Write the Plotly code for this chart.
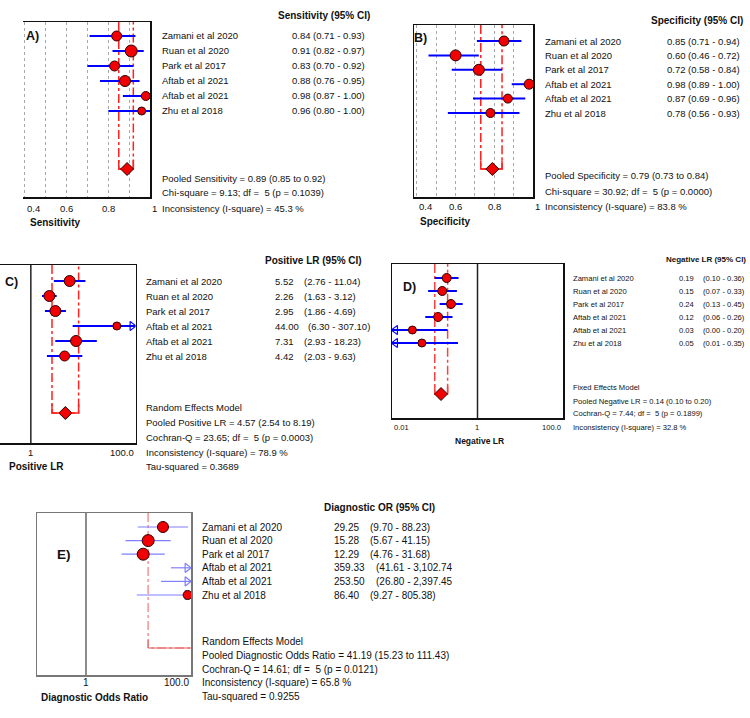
import math
import plotly.graph_objects as go

W, H = 750, 718
FONT = "Liberation Sans, Arial, sans-serif"

studies = ["Zamani et al 2020", "Ruan et al 2020", "Park et al 2017",
           "Aftab et al 2021", "Aftab et al 2021", "Zhu et al 2018"]

# A) Sensitivity
sens = [0.84, 0.91, 0.83, 0.88, 0.98, 0.96]
sens_lo = [0.71, 0.82, 0.70, 0.76, 0.87, 0.80]
sens_hi = [0.93, 0.97, 0.92, 0.95, 1.00, 1.00]
sens_pool = [0.89, 0.85, 0.92]
sens_stats = dict(chi=9.13, df=5, p=0.1039, i2=45.3)

# B) Specificity
spec = [0.85, 0.60, 0.72, 0.98, 0.87, 0.78]
spec_lo = [0.71, 0.46, 0.58, 0.89, 0.69, 0.56]
spec_hi = [0.94, 0.72, 0.84, 1.00, 0.96, 0.93]
spec_pool = [0.79, 0.73, 0.84]
spec_stats = dict(chi=30.92, df=5, p=0.0000, i2=83.8)

# C) Positive LR
plr = [5.52, 2.26, 2.95, 44.00, 7.31, 4.42]
plr_lo = [2.76, 1.63, 1.86, 6.30, 2.93, 2.03]
plr_hi = [11.04, 3.12, 4.69, 307.10, 18.23, 9.63]
plr_pool = [4.57, 2.54, 8.19]
plr_stats = dict(q=23.65, df=5, p=0.0003, i2=78.9, tau2=0.3689)

# D) Negative LR
nlr = [0.19, 0.15, 0.24, 0.12, 0.03, 0.05]
nlr_lo = [0.10, 0.07, 0.13, 0.06, 0.00, 0.01]
nlr_hi = [0.36, 0.33, 0.45, 0.26, 0.20, 0.35]
nlr_pool = [0.14, 0.10, 0.20]
nlr_stats = dict(q=7.44, df=5, p=0.1899, i2=32.8)

# E) Diagnostic OR
dor = [29.25, 15.28, 12.29, 359.33, 253.50, 86.40]
dor_lo = [9.70, 5.67, 4.76, 41.61, 26.80, 9.27]
dor_hi = [88.23, 41.15, 31.68, 3102.74, 2397.45, 805.38]
dor_pool = [41.19, 15.23, 111.43]
dor_stats = dict(q=14.61, df=5, p=0.0121, i2=65.8, tau2=0.9255)

# tick labels
lin_grid = [0.4, 0.5, 0.6, 0.7, 0.8, 0.9]
lin_ticks = [0.4, 0.6, 0.8, 1.0]
lin_ticktext = ["0.4", "0.6", "0.8", "1"]
null_value = 1

fig = go.Figure()


def px2paper_x(px):
    return px / W


def px2paper_y(py):
    return 1 - py / H


def txt(x_px, y_px, s, size, bold=False, anchor="left", color="#111"):
    fig.add_annotation(x=px2paper_x(x_px), y=px2paper_y(y_px), xref="paper", yref="paper",
                       text=("<b>%s</b>" % s) if bold else s, showarrow=False,
                       xanchor=anchor, yanchor="middle",
                       font=dict(size=size, family=FONT, color=color))


panels = [
    dict(key="A", n=1, log=False, box=(22.7, 22, 150, 197), row0=36, sp=15, pooled_px=169,
         xr=[0.389, 1.0], vals=sens, lo=sens_lo, hi=sens_hi, pool=sens_pool,
         sizes=[10, 12, 10, 11, 9, 8], ci_color="#0000ff", ci_w=2, red="#ff2020", red_w=1.5,
         left_line=False, box_color="#111"),
    dict(key="B", n=2, log=False, box=(414, 25, 533, 197), row0=41, sp=14.4, pooled_px=169,
         xr=[0.385, 1.0], vals=spec, lo=spec_lo, hi=spec_hi, pool=spec_pool,
         sizes=[10, 11, 11, 10, 9, 9], ci_color="#0000ff", ci_w=2, red="#ff2020", red_w=1.5,
         left_line=True, box_color="#111"),
    dict(key="C", n=3, log=True, box=(0, 265, 135.5, 443), row0=281, sp=15, pooled_px=413,
         xr=[-0.589, 2.0], vals=plr, lo=plr_lo, hi=plr_hi, pool=plr_pool,
         sizes=[11, 11, 11, 8, 11, 10], ci_color="#0000ff", ci_w=2, red="#ff2020", red_w=1.5,
         left_line=False, box_color="#111"),
    dict(key="D", n=4, log=True, box=(392, 264, 563, 418), row0=278, sp=13, pooled_px=394,
         xr=[-2.0, 2.0], vals=nlr, lo=nlr_lo, hi=nlr_hi, pool=nlr_pool,
         sizes=[9, 9, 9, 9, 8, 8], ci_color="#0000ff", ci_w=2, red="#ff4040", red_w=1.5,
         left_line=True, box_color="#111"),
    dict(key="E", n=5, log=True, box=(37, 513, 191, 675), row0=527, sp=13.6, pooled_px=648,
         xr=[-0.933, 2.0], vals=dor, lo=dor_lo, hi=dor_hi, pool=dor_pool,
         sizes=[11, 12, 12, 11, 11, 9], ci_color="#7f7fff", ci_w=1.2, red="#e86060", red_w=1,
         left_line=True, box_color="#777", no_diamond=True),
]

layout_axes = {}
for p in panels:
    n = p["n"]
    l, t, r, b = p["box"]
    xa = "x" if n == 1 else "x%d" % n
    ya = "y" if n == 1 else "y%d" % n
    xname = "xaxis" if n == 1 else "xaxis%d" % n
    yname = "yaxis" if n == 1 else "yaxis%d" % n
    p["xa"], p["ya"] = xa, ya
    ytop = (t - p["row0"]) / p["sp"]
    ybot = (b - p["row0"]) / p["sp"]
    p["ytop"], p["ybot"] = ytop, ybot
    p["prow"] = (p["pooled_px"] - p["row0"]) / p["sp"]
    xaxis = dict(domain=[l / W, r / W], range=p["xr"], anchor=ya,
                 type="log" if p["log"] else "linear",
                 showline=True, mirror=True, linecolor=p["box_color"], linewidth=1.5,
                 showticklabels=False, ticks="", zeroline=False, fixedrange=True)
    if p["log"]:
        xaxis["showgrid"] = False
    else:
        xaxis.update(showgrid=True, tickmode="array", tickvals=lin_grid,
                     gridcolor="#a8a8a8", griddash="dot", gridwidth=1)
    yaxis = dict(domain=[1 - b / H, 1 - t / H], range=[ybot, ytop], anchor=xa,
                 showgrid=False, zeroline=False, showticklabels=False, ticks="",
                 showline=True, linecolor=p["box_color"], linewidth=1.5, fixedrange=True)
    if p["left_line"]:
        yaxis["mirror"] = True
    else:
        yaxis["side"] = "right"
    layout_axes[xname] = xaxis
    layout_axes[yname] = yaxis

for p in panels:
    xa, ya = p["xa"], p["ya"]
    lo_lim = 10 ** p["xr"][0] if p["log"] else p["xr"][0]
    hi_lim = 10 ** p["xr"][1] if p["log"] else p["xr"][1]
    rows = list(range(len(p["vals"])))

    if p["log"]:
        fig.add_trace(go.Scatter(x=[null_value, null_value], y=[p["ytop"], p["ybot"]],
                                 xaxis=xa, yaxis=ya, mode="lines",
                                 line=dict(color="#222" if p["key"] != "E" else "#666", width=1.5),
                                 hoverinfo="skip", showlegend=False))

    plo, phi = p["pool"][1], p["pool"][2]
    fig.add_trace(go.Scatter(x=[plo, plo, phi, phi],
                             y=[p["ytop"], p["prow"], p["prow"], p["ytop"]],
                             xaxis=xa, yaxis=ya, mode="lines",
                             line=dict(color=p["red"], width=p["red_w"], dash="dashdot"),
                             hoverinfo="skip", showlegend=False))
    fig.add_trace(go.Scatter(x=[plo, plo, phi, phi],
                             y=[p["prow"] - 0.6, p["prow"], p["prow"], p["prow"] - 0.6],
                             xaxis=xa, yaxis=ya, mode="lines",
                             line=dict(color=p["red"], width=p["red_w"]),
                             hoverinfo="skip", showlegend=False))

    for i in rows:
        lo = max(p["lo"][i], lo_lim)
        hi = min(p["hi"][i], hi_lim)
        fig.add_trace(go.Scatter(x=[lo, hi], y=[i, i], xaxis=xa, yaxis=ya, mode="lines",
                                 line=dict(color=p["ci_color"], width=p["ci_w"]),
                                 hoverinfo="skip", showlegend=False))
        if p["log"]:
            span = p["xr"][1] - p["xr"][0]
            if p["hi"][i] >= hi_lim:
                xa_arrow = 10 ** (p["xr"][1] - span * 0.025)
                fig.add_trace(go.Scatter(x=[xa_arrow], y=[i], xaxis=xa, yaxis=ya, mode="markers",
                                         marker=dict(symbol="triangle-right-open", size=8, opacity=1,
                                                     color=p["ci_color"], line=dict(width=1.2)),
                                         hoverinfo="skip", showlegend=False))
            if p["lo"][i] <= lo_lim:
                xa_arrow = 10 ** (p["xr"][0] + span * 0.02)
                fig.add_trace(go.Scatter(x=[xa_arrow], y=[i], xaxis=xa, yaxis=ya, mode="markers",
                                         marker=dict(symbol="triangle-left-open", size=8, opacity=1,
                                                     color=p["ci_color"], line=dict(width=1.2)),
                                         hoverinfo="skip", showlegend=False))

    fig.add_trace(go.Scatter(x=p["vals"], y=rows, xaxis=xa, yaxis=ya, mode="markers",
                             marker=dict(symbol="circle", size=p["sizes"], color="#f00000", opacity=1,
                                         line=dict(color="#300000", width=1)),
                             opacity=1, cliponaxis=True, hoverinfo="skip", showlegend=False))
    if not p.get("no_diamond"):
        fig.add_trace(go.Scatter(x=[p["pool"][0]], y=[p["prow"]], xaxis=xa, yaxis=ya,
                                 mode="markers",
                                 marker=dict(symbol="diamond", size=10, color="#f00000", opacity=1,
                                             line=dict(color="#300000", width=1)),
                                 opacity=1, hoverinfo="skip", showlegend=False))


def study_text(p, x_lab, x_val, x_ci, size, fmt_val, fmt_ci, ci_shift=None):
    for i, s in enumerate(studies):
        fig.add_annotation(x=x_lab / W, y=i, xref="paper", yref=p["ya"], text=s,
                           showarrow=False, xanchor="left", yanchor="middle",
                           font=dict(size=size, family=FONT, color="#111"))
        fig.add_annotation(x=x_val / W, y=i, xref="paper", yref=p["ya"], text=fmt_val(p["vals"][i]),
                           showarrow=False, xanchor="left", yanchor="middle",
                           font=dict(size=size, family=FONT, color="#111"))
        xc = x_ci + (ci_shift(p["vals"][i]) if ci_shift else 0)
        fig.add_annotation(x=xc / W, y=i, xref="paper", yref=p["ya"],
                           text=fmt_ci(p["lo"][i], p["hi"][i]),
                           showarrow=False, xanchor="left", yanchor="middle",
                           font=dict(size=size, family=FONT, color="#111"))


def tick_text(p, vals, labels, anchors, y_px, size):
    for v, lab, anc in zip(vals, labels, anchors):
        xv = math.log10(v) if p["log"] else v
        fig.add_annotation(x=xv, y=px2paper_y(y_px), xref=p["xa"], yref="paper", text=lab,
                           showarrow=False, xanchor=anc, yanchor="middle",
                           font=dict(size=size, family=FONT, color="#111"))


f2 = lambda v: "%.2f" % v
ci2 = lambda a, b: "(%.2f - %.2f)" % (a, b)
ci_big = lambda a, b: "(%s - %s%s" % (format(a, ",.2f"), format(b, ",.2f"), ")" if b < 1000 else "")

pA, pB, pC, pD, pE = panels
S = 9.5   # main text size for A-C

# ---- A
txt(372, 15, "Sensitivity (95% CI)", 10, bold=True, anchor="right")
study_text(pA, 160, 290, 311, S, f2, ci2)
txt(160, 178, "Pooled Sensitivity = %.2f (%.2f to %.2f)" % tuple(sens_pool), S)
txt(160, 193, "Chi-square = %.2f; df =  %d (p = %.4f)" % (sens_stats["chi"], sens_stats["df"], sens_stats["p"]), S)
txt(160, 208, "Inconsistency (I-square) = %.1f %%" % sens_stats["i2"], S)
tick_text(pA, lin_ticks, lin_ticktext, ["left", "center", "center", "left"], 208, S)
txt(28, 222, "Sensitivity", 10, bold=True)
txt(24, 36, "A)", 12.5, bold=True)

# ---- B
txt(745, 20, "Specificity (95% CI)", 10, bold=True, anchor="right")
study_text(pB, 543, 665, 686, S, f2, ci2)
txt(543, 176, "Pooled Specificity = %.2f (%.2f to %.2f)" % tuple(spec_pool), S)
txt(543, 192, "Chi-square = %.2f; df =  %d (p = %.4f)" % (spec_stats["chi"], spec_stats["df"], spec_stats["p"]), S)
txt(543, 207, "Inconsistency (I-square) = %.1f %%" % spec_stats["i2"], S)
tick_text(pB, lin_ticks, lin_ticktext, ["left", "center", "center", "left"], 207, S)
txt(418, 221, "Specificity", 10, bold=True)
txt(412, 38, "B)", 12.5, bold=True)

# ---- C
txt(263, 260, "Positive LR (95% CI)", 10, bold=True)
study_text(pC, 144, 273, 302, S, f2, ci2, ci_shift=lambda v: 4 if v >= 10 else 0)
txt(144, 407, "Random Effects Model", S)
txt(144, 422, "Pooled Positive LR = %.2f (%.2f to %.2f)" % tuple(plr_pool), S)
txt(144, 437, "Cochran-Q = %.2f; df =  %d (p = %.4f)" % (plr_stats["q"], plr_stats["df"], plr_stats["p"]), S)
txt(144, 452, "Inconsistency (I-square) = %.1f %%" % plr_stats["i2"], S)
txt(144, 467, "Tau-squared = %.4f" % plr_stats["tau2"], S)
tick_text(pC, [1, 100], ["1", "100.0"], ["center", "right"], 452, S)
txt(7, 467, "Positive LR", 10, bold=True)
txt(3, 282, "C)", 12.5, bold=True)

# ---- D
SD = 7.6
txt(748, 259, "Negative LR (95% CI)", 8, bold=True, anchor="right")
study_text(pD, 571, 677, 701, SD, f2, ci2)
txt(571, 387, "Fixed Effects Model", SD)
txt(571, 401, "Pooled Negative LR = %.2f (%.2f to %.2f)" % tuple(nlr_pool), SD)
txt(571, 414, "Cochran-Q = %.2f; df =  %d (p = %.4f)" % (nlr_stats["q"], nlr_stats["df"], nlr_stats["p"]), SD)
txt(571, 427, "Inconsistency (I-square) = %.1f %%" % nlr_stats["i2"], SD)
tick_text(pD, [0.01, 1, 100], ["0.01", "1", "100.0"], ["left", "center", "right"], 427, SD)
txt(479, 441, "Negative LR", 8.5, bold=True, anchor="center")
txt(401, 287, "D)", 12.5, bold=True)

# ---- E
SE = 10
txt(322, 507, "Diagnostic OR (95% CI)", 10, bold=True)
study_text(pE, 200, 332, 368, SE, f2, ci_big, ci_shift=lambda v: 6 if v >= 100 else 0)
txt(200, 641, "Random Effects Model", SE)
txt(200, 655, "Pooled Diagnostic Odds Ratio = %.2f (%.2f to %.2f)" % tuple(dor_pool), SE)
txt(200, 669, "Cochran-Q = %.2f; df =  %d (p = %.4f)" % (dor_stats["q"], dor_stats["df"], dor_stats["p"]), SE)
txt(200, 682, "Inconsistency (I-square) = %.1f %%" % dor_stats["i2"], SE)
txt(200, 696, "Tau-squared = %.4f" % dor_stats["tau2"], SE)
tick_text(pE, [1, 100], ["1", "100.0"], ["center", "right"], 682, SE)
txt(39, 697, "Diagnostic Odds Ratio", 10, bold=True)
txt(55, 554, "E)", 13.5, bold=True)

fig.update_layout(width=W, height=H, margin=dict(l=0, r=0, t=0, b=0),
                  paper_bgcolor="white", plot_bgcolor="white", showlegend=False,
                  font=dict(family=FONT), **layout_axes)

fig.write_html("out.html", config={"displayModeBar": False, "staticPlot": True},
               post_script="document.body.style.margin='0';document.body.style.padding='0';"
                           "document.documentElement.style.overflow='hidden';"
                           "document.body.style.overflow='hidden';")
